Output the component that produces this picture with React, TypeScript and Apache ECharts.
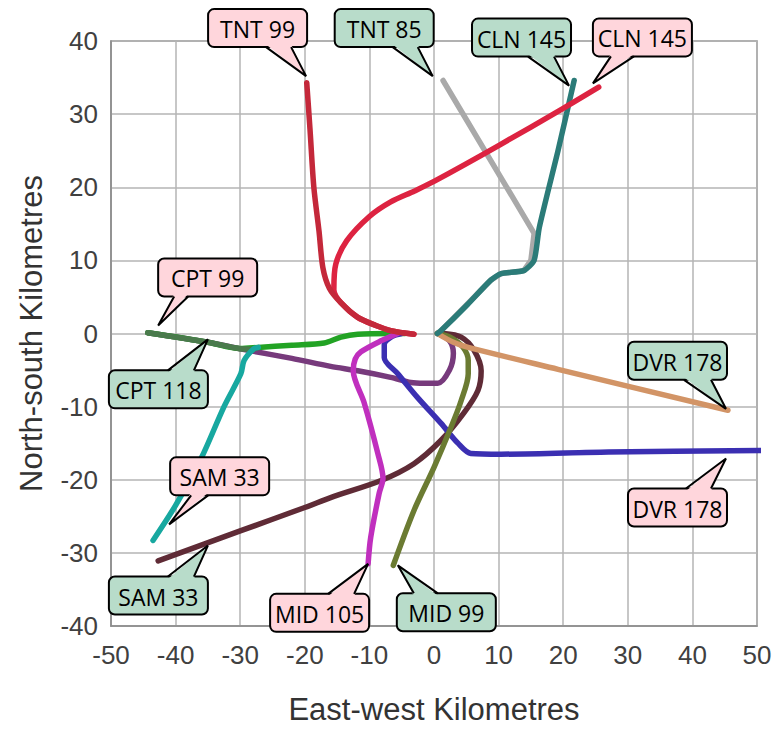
import React, { useEffect, useRef } from "react";
import * as echarts from "echarts";

// ---- data (km east-west, km north-south) ----
const xTicks = [-50, -40, -30, -20, -10, 0, 10, 20, 30, 40, 50];
const yTicks = [-40, -30, -20, -10, 0, 10, 20, 30, 40];

const tnt99Red: number[][] = [
  [-3.1, -0.1], [-6.7, 0.4], [-9, 1.1], [-11.8, 2.2], [-14.4, 4.2], [-16.2, 6.2],
  [-17.2, 9], [-17.8, 14], [-18.6, 20], [-19.2, 28], [-19.7, 34.3],
];
const cln145Red: number[][] = [
  [-3.1, -0.1], [-6.7, 0.4], [-9, 1.1], [-11.8, 2.2], [-14.4, 4.2], [-15.5, 6],
  [-15.2, 9.5], [-13.5, 12.7], [-10, 16], [-6.7, 18], [-3, 19.5], [0, 20.8],
  [10, 25.7], [20, 30.8], [25.5, 33.7],
];
const tnt85Gray: number[][] = [
  [1.4, 34.6], [15.5, 13.7], [15, 10], [13.9, 8.6], [10.4, 8.2], [8.8, 7.3], [1.1, 0.4],
];
const cln145Teal: number[][] = [
  [0.5, 0], [1.1, 0.4], [5, 3.8], [8.8, 7.3], [10.4, 8.2], [13.9, 8.6], [15.5, 10],
  [16.3, 14.5], [19.2, 25], [21.7, 34.6],
];
const cptShared: number[][] = [
  [-44.3, 0.1], [-40, -0.5], [-35, -1.2], [-30, -2.1], [-28, -2.2],
];
const cpt99Green: number[][] = [
  [-44.3, 0.1], [-35, -1.2], [-30, -2.05], [-27.2, -1.9], [-22, -1.6], [-17, -1.3],
  [-14.4, -0.5], [-11.8, -0.1], [-6.7, 0], [-4.5, 0],
];
const cpt118Purple: number[][] = [
  [-44.3, 0.1], [-35, -1.2], [-30, -2.1], [-22, -3.4], [-16, -4.5], [-11.8, -5.1],
  [-6.7, -6], [-3.6, -6.7], [-1.5, -6.8], [0.6, -6.8], [2.4, -5], [3, -2.7],
  [2.4, -1], [0.6, 0],
];
const sam33Cyan: number[][] = [
  [-27.2, -1.9], [-27.9, -2.1], [-29.4, -3.7], [-29.9, -5.5], [-32.5, -10],
  [-36, -17], [-40, -23.5], [-43.5, -28.3],
];
const sam33Brown: number[][] = [
  [-42.7, -31.1], [-30, -27], [-20, -23.8], [-15.9, -22.4], [-8.2, -20.1],
  [-3.1, -17.8], [1.1, -14.6], [4.6, -10.9], [6.8, -7.8], [7.3, -5.1], [6.2, -2.3],
  [4.2, -0.5], [1.5, 0],
];
const mid105Magenta: number[][] = [
  [-10.2, -31.5], [-9.8, -27.9], [-8.5, -21.9], [-7.9, -19.8], [-8.7, -16.4],
  [-10.8, -9.5], [-12.5, -5.1], [-12.2, -3.5], [-11.3, -2.5], [-8.2, -1], [-5.6, 0],
];
const mid99Olive: number[][] = [
  [-6.3, -31.7], [-3.1, -24.2], [0, -18.3], [2.6, -12.9], [4.2, -9.2], [5.3, -5.5],
  [5.3, -3.7], [4.5, -1.9], [2.5, -0.5], [0.5, 0],
];
const dvr178Blue: number[][] = [
  [-5, 0], [-6.5, -0.4], [-7.7, -1.5], [-7.7, -3.3], [-5.6, -5.5], [-2.5, -8.8],
  [1.1, -12.3], [3.7, -15], [5.7, -16.4], [10.4, -16.5], [27, -16.2], [50.5, -16],
];
const dvr178Tan: number[][] = [
  [0.5, 0], [3, -1.2], [5.3, -1.9], [19.2, -4.9], [45.5, -10.5],
];

// callouts: label text, point the pointer touches (data coords), fill kind
const calloutTexts = [
  "TNT 99", "TNT 85", "CLN 145", "CLN 145", "CPT 99", "CPT 118",
  "SAM 33", "SAM 33", "MID 105", "MID 99", "DVR 178", "DVR 178",
];
const calloutTips: number[][] = [
  [-19.8, 35.2], [-0.2, 35.2], [20.9, 33.9], [24.6, 34.2], [-42.7, 1.1], [-35, -0.8],
  [-41, -26.1], [-35, -29], [-10.2, -31.5], [-5.6, -31.7], [45.2, -10.3], [45.2, -17.1],
];
const calloutKinds = [
  "pink", "green", "green", "pink", "pink", "green",
  "pink", "green", "pink", "green", "green", "pink",
];

// layout (pixel offsets of each box relative to its tip; pointer base offsets)
const calloutLayout = [
  { dx: -98, dy: -67, b1: -40, b2: -15, side: "bottom" },
  { dx: -98, dy: -67, b1: -40, b2: -15, side: "bottom" },
  { dx: -97, dy: -67, b1: -41, b2: -15, side: "bottom" },
  { dx: 0, dy: -65, b1: 18, b2: 41, side: "bottom" },
  { dx: 0, dy: -67, b1: 16, b2: 30, side: "bottom" },
  { dx: -99, dy: 31, b1: -40, b2: -14, side: "top" },
  { dx: 1, dy: -67, b1: 22, b2: 39, side: "bottom" },
  { dx: -99, dy: 31, b1: -40, b2: -14, side: "top" },
  { dx: -98, dy: 30, b1: -40, b2: -14, side: "top" },
  { dx: -1, dy: 28, b1: 16, b2: 40, side: "top" },
  { dx: -98, dy: -67, b1: -42, b2: -15, side: "bottom" },
  { dx: -98, dy: 30, b1: -40, b2: -15, side: "top" },
];
const BOX_W = 99;
const BOX_H = 38;

const FILLS: Record<string, string> = { pink: "#ffd6dc", green: "#b8dcca" };

function lineSeries(name: string, data: number[][], color: string, z: number, smooth = 0.3) {
  return {
    type: "line",
    name,
    data,
    showSymbol: false,
    symbol: "none",
    smooth,
    z,
    lineStyle: { color, width: 5.5, cap: "round", join: "round" },
  };
}

export default function App() {
  const ref = useRef<HTMLDivElement>(null);
  useEffect(() => {
    document.body.style.margin = "0";
    if (!ref.current) return;
    const chart = echarts.init(ref.current, undefined, { renderer: "svg" });
    const axisFont = { fontFamily: "Liberation Sans, Arial, sans-serif", fontSize: 26, color: "#404040" };
    chart.setOption({
      animation: false,
      backgroundColor: "#fff",
      grid: {
        left: 111, right: 22, top: 41, bottom: 103,
        show: true, borderColor: "#8a8a8a", borderWidth: 1.5,
        outerBoundsMode: "none",
      },
      xAxis: {
        type: "value", min: -50, max: 50, interval: 10,
        name: "East-west Kilometres", nameLocation: "middle", nameGap: 68,
        nameTextStyle: { fontFamily: "Liberation Sans, Arial, sans-serif", fontSize: 31, color: "#333" },
        axisLine: { show: true, onZero: false, lineStyle: { color: "#8a8a8a", width: 1.5 } },
        axisTick: { show: false },
        axisLabel: { ...axisFont, margin: 16, formatter: (v: number) => (xTicks.includes(v) ? String(v) : "") },
        splitLine: { show: true, lineStyle: { color: "#b4b4b4", width: 1.5 } },
      },
      yAxis: {
        type: "value", min: -40, max: 40, interval: 10,
        name: "North-south Kilometres", nameLocation: "middle", nameGap: 64,
        nameTextStyle: { fontFamily: "Liberation Sans, Arial, sans-serif", fontSize: 31, color: "#333" },
        axisLine: { show: true, onZero: false, lineStyle: { color: "#8a8a8a", width: 1.5 } },
        axisTick: { show: false },
        axisLabel: { ...axisFont, margin: 13, formatter: (v: number) => (yTicks.includes(v) ? String(v) : "") },
        splitLine: { show: true, lineStyle: { color: "#b4b4b4", width: 1.5 } },
      },
      series: [
        lineSeries("TNT 85", tnt85Gray, "#a9a9a9", 2, 0),
        lineSeries("CPT 118", cpt118Purple, "#773a7c", 3),
        lineSeries("CPT 99", cpt99Green, "#22a324", 4),
        lineSeries("CPT", cptShared, "#4a7a4c", 5, 0),
        lineSeries("SAM 33 a", sam33Cyan, "#17a8a0", 6),
        lineSeries("SAM 33 b", sam33Brown, "#5f2b36", 7),
        lineSeries("DVR 178 a", dvr178Blue, "#3b2fb2", 8),
        lineSeries("MID 105", mid105Magenta, "#c02fbe", 9),
        lineSeries("MID 99", mid99Olive, "#6b7b32", 10),
        lineSeries("DVR 178 b", dvr178Tan, "#d29466", 11),
        lineSeries("CLN 145 a", cln145Teal, "#2b7b78", 12, 0.2),
        lineSeries("CLN 145 b", cln145Red, "#dd2341", 13),
        lineSeries("TNT 99", tnt99Red, "#c4283a", 14),
      ],
    });

    const graphics: any[] = [];
    calloutTexts.forEach((text, i) => {
      const p = chart.convertToPixel({ xAxisIndex: 0, yAxisIndex: 0 }, calloutTips[i]) as number[];
      const [tx, ty] = p;
      const L = calloutLayout[i];
      const bx = tx + L.dx;
      const by = ty + L.dy;
      const baseY = L.side === "bottom" ? by + BOX_H : by;
      const inset = L.side === "bottom" ? -2.5 : 2.5;
      const fill = FILLS[calloutKinds[i]];
      graphics.push(
        {
          type: "rect", z: 100,
          shape: { x: bx, y: by, width: BOX_W, height: BOX_H, r: 6 },
          style: { fill, stroke: "#000", lineWidth: 2 },
        },
        {
          type: "polygon", z: 101,
          shape: { points: [[tx + L.b1, baseY + inset], [tx + L.b2, baseY + inset], [tx, ty]] },
          style: { fill, stroke: "none" },
        },
        {
          type: "polyline", z: 102,
          shape: { points: [[tx + L.b1, baseY], [tx, ty], [tx + L.b2, baseY]] },
          style: { fill: "none", stroke: "#000", lineWidth: 2 },
        },
        {
          type: "text", z: 103,
          style: {
            text, x: bx + BOX_W / 2, y: by + BOX_H / 2 + 1,
            fill: "#000", font: '23px "Open Sans", sans-serif',
            textAlign: "center", textVerticalAlign: "middle",
            align: "center", verticalAlign: "middle",
          },
        }
      );
    });
    chart.setOption({ graphic: graphics });

    return () => chart.dispose();
  }, []);
  return <div ref={ref} style={{ width: 779, height: 729 }} />;
}
